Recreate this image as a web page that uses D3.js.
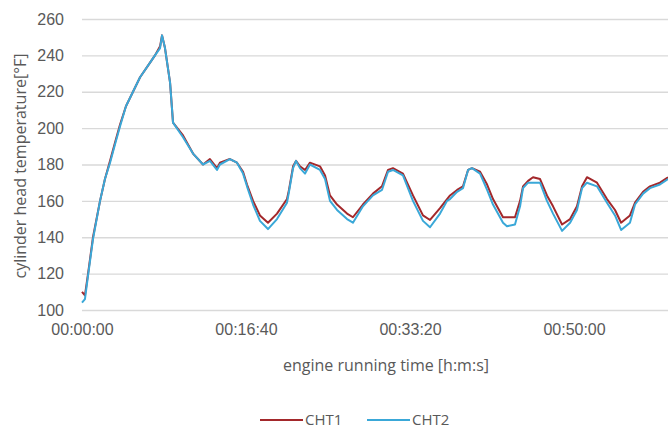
<!DOCTYPE html>
<html>
<head>
<meta charset="utf-8">
<script src="https://cdn.jsdelivr.net/npm/d3@7"></script>
<style>
  body { margin: 0; background: #fff; }
  svg { display: block; font-family: "Open Sans", "Noto Sans", sans-serif; }
</style>
</head>
<body>
<svg id="chart" width="668" height="431"></svg>
<script>
// engine running time in seconds
const timeSec = [0, 18, 37, 67, 110, 140, 171, 201, 232, 268, 311, 354, 415, 445, 476, 488, 506, 537, 555, 616, 677, 738, 780, 823, 841,
  902, 945, 982, 1006, 1043, 1085, 1134, 1189, 1250, 1262, 1287, 1305, 1329, 1360, 1390, 1451, 1482, 1512, 1555, 1616,
  1652, 1713, 1774, 1829, 1866, 1896, 1957, 2018, 2079, 2122, 2183, 2226, 2244, 2287, 2323, 2354, 2378, 2427, 2470, 2506,
  2567, 2591, 2640, 2671, 2689, 2720, 2750, 2793, 2835, 2872, 2927, 2976, 3018, 3049, 3079, 3140, 3201, 3250, 3287, 3341,
  3372, 3421, 3463, 3524, 3573];

// cylinder head temperature, deg F
const cht1 = [110, 108, 120, 140, 160, 172, 182, 192, 202, 212, 220, 228, 236, 240, 245, 251, 244, 225, 203, 196, 186, 180, 183, 178, 181,
  183, 181, 176, 169, 160, 152, 148, 153, 161, 166, 179, 182, 179, 177, 181, 179, 174, 163, 158, 153,
  151, 158, 164, 168, 177, 178, 175, 163, 152, 149.5, 156, 161, 163, 166, 168, 177, 178, 176, 169, 161,
  151, 151, 151, 160, 168, 171, 173, 172, 163, 157, 147, 150, 157, 168, 173, 170, 161, 155, 148, 152,
  159, 165, 168, 170, 173];

const cht2 = [104, 106, 119, 139, 160, 172, 181, 191, 201, 212, 220, 228, 236, 240, 244, 251, 244, 225, 203, 195, 186, 180, 182, 177, 180,
  183, 181, 175, 168, 158, 149, 144.5, 150, 159, 165, 178, 182, 178, 175, 180, 177, 172, 160, 155, 150,
  148, 157, 163, 166, 176, 177, 174, 160, 149, 145.5, 153, 160, 161, 165, 167, 177, 178, 175, 166, 158,
  148, 146, 147, 157, 167, 170, 170, 170, 160, 153, 143.5, 148, 155, 167, 170, 168, 159, 152, 144, 148,
  158, 164, 167, 169, 172];

const yTicks = [100, 120, 140, 160, 180, 200, 220, 240, 260];
const xTicks = [0, 1000, 2000, 3000];
const seriesNames = ["CHT1", "CHT2"];
const seriesColors = ["#a3282b", "#3aa8d8"];

const svg = d3.select("#chart");
const textColor = "#595959";

const x = d3.scaleLinear().domain([0, 3573]).range([82, 668]);
const y = d3.scaleLinear().domain([100, 260]).range([310, 19]);

function hms(s) {
  const h = Math.floor(s / 3600), m = Math.floor((s % 3600) / 60), sec = s % 60;
  return [h, m, sec].map(v => String(v).padStart(2, "0")).join(":");
}

// horizontal grid + y labels
const yAxis = svg.append("g")
  .attr("transform", "translate(82,0)")
  .call(d3.axisLeft(y).tickValues(yTicks).tickSize(-(668 - 82)).tickPadding(18));
yAxis.select(".domain").remove();
yAxis.selectAll("line").attr("stroke", "#d9d9d9").attr("stroke-width", 1.3);
yAxis.selectAll("text").attr("fill", textColor).style("font-size", "16px");

// x labels
const xAxis = svg.append("g")
  .attr("transform", "translate(0,310)")
  .call(d3.axisBottom(x).tickValues(xTicks).tickFormat(hms).tickSize(0).tickPadding(14));
xAxis.select(".domain").remove();
xAxis.selectAll("text").attr("fill", textColor).style("font-size", "16px");

// lines
const data = timeSec.map((t, i) => ({ t, v: [cht1[i], cht2[i]] }));
[0, 1].forEach(k => {
  svg.append("path")
    .datum(data)
    .attr("fill", "none")
    .attr("stroke", seriesColors[k])
    .attr("stroke-width", 2)
    .attr("stroke-linejoin", "round")
    .attr("d", d3.line().x(d => x(d.t)).y(d => y(d.v[k])));
});

// axis titles
svg.append("text")
  .attr("x", 386).attr("y", 365).attr("dy", "0.35em")
  .attr("text-anchor", "middle")
  .attr("fill", textColor).style("font-size", "16px")
  .text("engine running time [h:m:s]");

svg.append("text")
  .attr("transform", "translate(20,166) rotate(-90)")
  .attr("dy", "0.35em")
  .attr("text-anchor", "middle")
  .attr("fill", textColor).style("font-size", "16px")
  .text("cylinder head temperature[°F]");

// legend
const legendX = [260, 367];
seriesNames.forEach((name, k) => {
  const g = svg.append("g").attr("transform", `translate(${legendX[k]},420)`);
  g.append("line").attr("x1", 0).attr("x2", 43).attr("stroke", seriesColors[k]).attr("stroke-width", 2);
  g.append("text").attr("x", 45).attr("dy", "0.35em")
    .attr("fill", textColor).style("font-size", "15px").text(name);
});
</script>
</body>
</html>
